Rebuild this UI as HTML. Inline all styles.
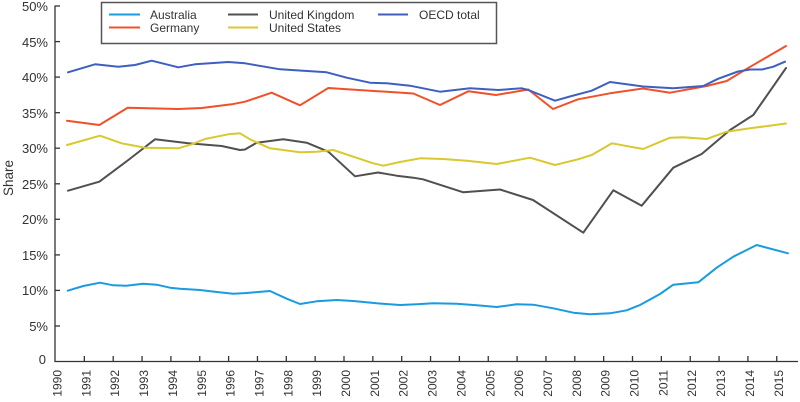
<!DOCTYPE html>
<html>
<head>
<meta charset="utf-8">
<style>
  html,body{margin:0;padding:0;background:#fff;}
  svg{display:block;}
  text{font-family:"Liberation Sans", sans-serif; fill:#333;}
</style>
</head>
<body>
<svg width="800" height="402" viewBox="0 0 800 402" xmlns="http://www.w3.org/2000/svg">
  <rect width="800" height="402" fill="#fff"/>

  <!-- Y axis labels -->
  <g font-size="13" text-anchor="end">
    <text x="48" y="11">50%</text>
    <text x="48" y="47">45%</text>
    <text x="48" y="82">40%</text>
    <text x="48" y="118">35%</text>
    <text x="48" y="153">30%</text>
    <text x="48" y="189">25%</text>
    <text x="48" y="224">20%</text>
    <text x="48" y="260">15%</text>
    <text x="48" y="295">10%</text>
    <text x="48" y="331">5%</text>
    <text x="46" y="364">0</text>
  </g>
  <text transform="translate(13,178) rotate(-90)" font-size="13.5" text-anchor="middle">Share</text>

  <!-- Axes -->
  <g stroke="#333" stroke-width="1.3" fill="none">
    <line x1="55" y1="5.5" x2="55" y2="361.5"/>
    <line x1="54.4" y1="361.5" x2="798" y2="361.5"/>
    <!-- y ticks -->
    <line x1="55" y1="6" x2="60" y2="6"/>
    <line x1="55" y1="41.6" x2="60" y2="41.6"/>
    <line x1="55" y1="77.1" x2="60" y2="77.1"/>
    <line x1="55" y1="112.7" x2="60" y2="112.7"/>
    <line x1="55" y1="148.2" x2="60" y2="148.2"/>
    <line x1="55" y1="183.8" x2="60" y2="183.8"/>
    <line x1="55" y1="219.3" x2="60" y2="219.3"/>
    <line x1="55" y1="254.9" x2="60" y2="254.9"/>
    <line x1="55" y1="290.4" x2="60" y2="290.4"/>
    <line x1="55" y1="326" x2="60" y2="326"/>
    <!-- x ticks -->
    <line x1="84.35" y1="361.5" x2="84.35" y2="356"/>
    <line x1="113.2" y1="361.5" x2="113.2" y2="356"/>
    <line x1="142.05" y1="361.5" x2="142.05" y2="356"/>
    <line x1="170.9" y1="361.5" x2="170.9" y2="356"/>
    <line x1="199.75" y1="361.5" x2="199.75" y2="356"/>
    <line x1="228.6" y1="361.5" x2="228.6" y2="356"/>
    <line x1="257.45" y1="361.5" x2="257.45" y2="356"/>
    <line x1="286.3" y1="361.5" x2="286.3" y2="356"/>
    <line x1="315.15" y1="361.5" x2="315.15" y2="356"/>
    <line x1="344" y1="361.5" x2="344" y2="356"/>
    <line x1="372.85" y1="361.5" x2="372.85" y2="356"/>
    <line x1="401.7" y1="361.5" x2="401.7" y2="356"/>
    <line x1="430.55" y1="361.5" x2="430.55" y2="356"/>
    <line x1="459.4" y1="361.5" x2="459.4" y2="356"/>
    <line x1="488.25" y1="361.5" x2="488.25" y2="356"/>
    <line x1="517.1" y1="361.5" x2="517.1" y2="356"/>
    <line x1="545.95" y1="361.5" x2="545.95" y2="356"/>
    <line x1="574.8" y1="361.5" x2="574.8" y2="356"/>
    <line x1="603.65" y1="361.5" x2="603.65" y2="356"/>
    <line x1="632.5" y1="361.5" x2="632.5" y2="356"/>
    <line x1="661.35" y1="361.5" x2="661.35" y2="356"/>
    <line x1="690.2" y1="361.5" x2="690.2" y2="356"/>
    <line x1="719.05" y1="361.5" x2="719.05" y2="356"/>
    <line x1="747.9" y1="361.5" x2="747.9" y2="356"/>
    <line x1="776.75" y1="361.5" x2="776.75" y2="356"/>
  </g>

  <!-- X labels -->
  <g font-size="12" text-anchor="end">
    <text transform="translate(61.5,370) rotate(-90)">1990</text>
    <text transform="translate(90.35,370) rotate(-90)">1991</text>
    <text transform="translate(119.2,370) rotate(-90)">1992</text>
    <text transform="translate(148.05,370) rotate(-90)">1993</text>
    <text transform="translate(176.9,370) rotate(-90)">1994</text>
    <text transform="translate(205.75,370) rotate(-90)">1995</text>
    <text transform="translate(234.6,370) rotate(-90)">1996</text>
    <text transform="translate(263.45,370) rotate(-90)">1997</text>
    <text transform="translate(292.3,370) rotate(-90)">1998</text>
    <text transform="translate(321.15,370) rotate(-90)">1999</text>
    <text transform="translate(350,370) rotate(-90)">2000</text>
    <text transform="translate(378.85,370) rotate(-90)">2001</text>
    <text transform="translate(407.7,370) rotate(-90)">2002</text>
    <text transform="translate(436.55,370) rotate(-90)">2003</text>
    <text transform="translate(465.4,370) rotate(-90)">2004</text>
    <text transform="translate(494.25,370) rotate(-90)">2005</text>
    <text transform="translate(523.1,370) rotate(-90)">2006</text>
    <text transform="translate(551.95,370) rotate(-90)">2007</text>
    <text transform="translate(580.8,370) rotate(-90)">2008</text>
    <text transform="translate(609.65,370) rotate(-90)">2009</text>
    <text transform="translate(638.5,370) rotate(-90)">2010</text>
    <text transform="translate(667.35,370) rotate(-90)">2011</text>
    <text transform="translate(696.2,370) rotate(-90)">2012</text>
    <text transform="translate(725.05,370) rotate(-90)">2013</text>
    <text transform="translate(753.9,370) rotate(-90)">2014</text>
    <text transform="translate(782.75,370) rotate(-90)">2015</text>
  </g>

  <!-- Series -->
  <g fill="none" stroke-width="2" stroke-linejoin="round" stroke-linecap="round">
    <!-- Australia -->
    <polyline stroke="#1a9be0" points="67.7,290.7 83.3,286 100,282.7 113.3,285.3 126.7,285.7 143.3,283.7 156.7,284.7 170,287.7 180,288.7 200,290 216.7,292 233.3,293.7 246.7,293 270,291 286.7,298.7 300,304 316.7,301.3 336.7,300 353.3,301 376.7,303.3 400,305 416.7,304.3 433.3,303.3 456.7,303.7 476.7,305.3 496.7,307 516.7,304.3 533.3,304.7 553.3,308.3 573.3,312.7 590,314.3 610,313.3 626.7,310.3 640,305 660,294 673.3,284.7 698.3,282.3 716.7,267.7 733.3,256.7 756.7,245 788,253.3"/>
    <!-- United Kingdom -->
    <polyline stroke="#505050" points="68,190.7 99.3,181.7 128.3,160 155,139.3 188.3,143.3 221.7,146 240,150 245,149.5 256.7,142.7 283.3,139.3 306.7,142.7 328.3,151.7 355,176.3 378,172.5 396.7,175.7 413.3,177.7 423,179.3 463.3,192.3 500,189.5 533,200 583.3,232.7 613.3,190.3 641.7,205.7 673.3,167.7 701.7,154 730,130 753.3,115 786,68"/>
    <!-- United States -->
    <polyline stroke="#d9c82e" points="67,145 100,135.7 121.7,143.3 145,147.7 178.3,148.3 191.7,144.3 205,139 228.3,134.3 240,133.3 250,139.3 270,148.3 300,152.3 316.7,151.7 333.3,150 353.3,156.7 373.3,163.3 383.3,165.7 400,162 420,158.3 443,159 467,160.7 496.7,164 530,157.7 555,165 578,159.3 591.7,155 612,143.3 643,149 670,137.7 683,137.3 706.7,139 726.7,131.7 750,128.3 786,123.5"/>
    <!-- Germany -->
    <polyline stroke="#f0502a" points="67,120.7 99.3,125 127.7,107.7 178.3,109 201.7,108 231.7,104.3 245,101.7 271.7,92.7 300,105.3 328.3,88 370,90.7 413.3,93.5 440,105 468.3,91.3 496,95 528.3,89.5 553,109 578,99.3 610,93.3 643,88.5 670,92.7 706.7,86 726.7,81 746.7,68.8 786,46"/>
    <!-- OECD total -->
    <polyline stroke="#3f5fbf" points="68,72.3 95,64.3 118.3,66.7 135,65 151.7,60.7 178.3,67.3 195,64.3 228.3,62 245,63.3 280,69.3 303.3,70.7 326.7,72.3 346.7,77.7 370,82.7 386.7,83.3 410,85.7 440,91.7 470,88.3 498.3,90 521.7,88.3 528.3,90 555,100.7 571.7,96 591.7,90.7 610,82 643.3,86.5 673.3,88.3 703.3,86 718,78.8 738,71.5 750,69.5 762,69.5 773.3,66.7 785,61.7"/>
  </g>

  <!-- Legend -->
  <rect x="101.5" y="2.5" width="395" height="41" fill="#fff" stroke="#555" stroke-width="1.5"/>
  <g stroke-width="2">
    <line x1="109" y1="14.5" x2="140" y2="14.5" stroke="#1a9be0"/>
    <line x1="109" y1="27.5" x2="140" y2="27.5" stroke="#f0502a"/>
    <line x1="228" y1="14.5" x2="258" y2="14.5" stroke="#505050"/>
    <line x1="228" y1="27.5" x2="258" y2="27.5" stroke="#d9c82e"/>
    <line x1="378" y1="14.5" x2="408" y2="14.5" stroke="#3f5fbf"/>
  </g>
  <g font-size="12">
    <text x="150" y="19">Australia</text>
    <text x="150" y="32">Germany</text>
    <text x="269" y="19">United Kingdom</text>
    <text x="269" y="32">United States</text>
    <text x="419" y="19">OECD total</text>
  </g>
</svg>
</body>
</html>
